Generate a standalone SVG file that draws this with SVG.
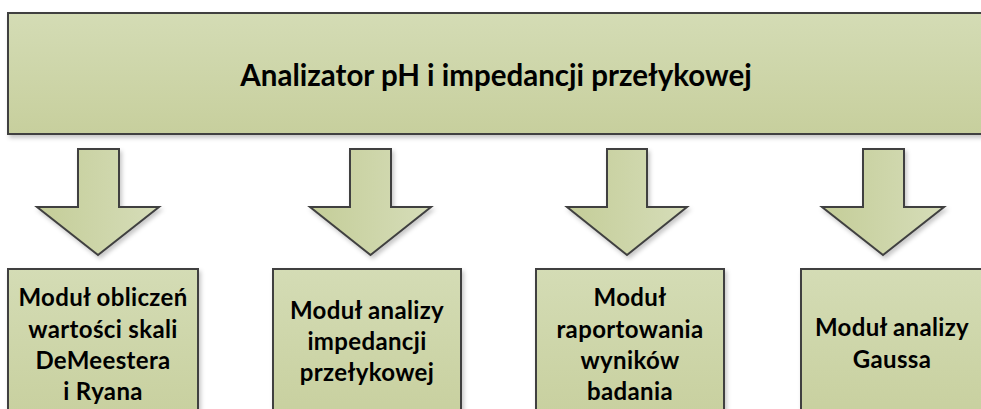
<svg xmlns="http://www.w3.org/2000/svg" width="981" height="409" viewBox="0 0 981 409">
  <defs>
    <linearGradient id="gV" x1="0" y1="0" x2="0" y2="1">
      <stop offset="0" stop-color="#d4dcb5"/>
      <stop offset="1" stop-color="#c7cf9d"/>
    </linearGradient>
    <linearGradient id="gH" x1="0" y1="0" x2="1" y2="0">
      <stop offset="0" stop-color="#c4cd98"/>
      <stop offset="1" stop-color="#d6ddb9"/>
    </linearGradient>
    <filter id="sh" x="-10%" y="-10%" width="130%" height="130%">
      <feDropShadow dx="2" dy="3" stdDeviation="2" flood-color="#000" flood-opacity="0.22"/>
    </filter>
  </defs>
  <style>
    .box { fill: url(#gV); stroke: #404040; stroke-width: 2; filter: url(#sh); }
    .arr { fill: url(#gH); stroke: #404040; stroke-width: 2; stroke-linejoin: miter; filter: url(#sh); }
    .t { font-family: "Lato", "Open Sans", "Liberation Sans", sans-serif; font-weight: bold; fill: #000; text-anchor: middle; }
    .tt { font-size: 29.5px; }
    .bt { font-size: 24px; letter-spacing: 0.35px; }
  </style>
  <rect width="981" height="409" fill="#ffffff"/>

  <g id="analizator">
    <rect class="box" x="8" y="13" width="990" height="121"/>
    <text class="t tt" x="496" y="86">Analizator pH i impedancji przełykowej</text>
  </g>

  <g id="connectors">
    <path class="arr" d="M78,149 H119 V207 H159 L98,255 L37,207 H78 Z"/>
    <path class="arr" d="M350,149 H391 V207 H431 L370.5,255 L310,207 H350 Z"/>
    <path class="arr" d="M607,149 H647 V207 H687 L627,255 L567,207 H607 Z"/>
    <path class="arr" d="M863,149 H904 V207 H944 L883,255 L822,207 H863 Z"/>
  </g>

  <g id="modul-demeester">
    <rect class="box" x="8" y="269" width="190" height="160"/>
    <text class="t bt" x="103" y="306">Moduł obliczeń</text>
    <text class="t bt" x="103" y="338">wartości skali</text>
    <text class="t bt" x="103" y="369">DeMeestera</text>
    <text class="t bt" x="103" y="400">i Ryana</text>
  </g>

  <g id="modul-impedancji">
    <rect class="box" x="273" y="269" width="188" height="160"/>
    <text class="t bt" x="367" y="319">Moduł analizy</text>
    <text class="t bt" x="367" y="350">impedancji</text>
    <text class="t bt" x="367" y="381">przełykowej</text>
  </g>

  <g id="modul-raportowania">
    <rect class="box" x="536" y="269" width="188" height="160"/>
    <text class="t bt" x="630" y="306">Moduł</text>
    <text class="t bt" x="630" y="338">raportowania</text>
    <text class="t bt" x="630" y="369">wyników</text>
    <text class="t bt" x="630" y="400">badania</text>
  </g>

  <g id="modul-gaussa">
    <rect class="box" x="801" y="269" width="190" height="160"/>
    <text class="t bt" x="892" y="336">Moduł analizy</text>
    <text class="t bt" x="892" y="368">Gaussa</text>
  </g>
</svg>
